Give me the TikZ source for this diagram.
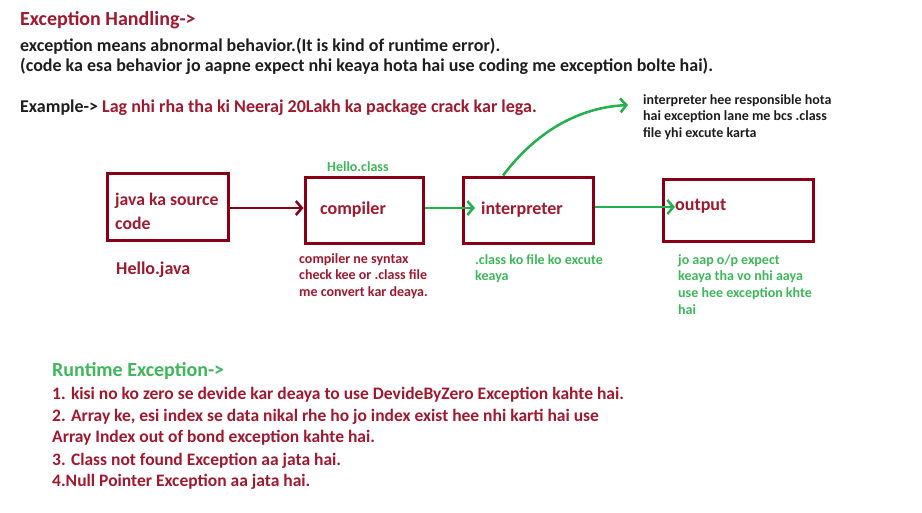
\documentclass[tikz,border=0pt]{standalone}
\usepackage{fontspec}
\setmainfont{Carlito}
\usetikzlibrary{arrows.meta}
\definecolor{dred}{HTML}{880015}
\definecolor{tred}{HTML}{A0192F}
\definecolor{lgreen}{HTML}{22B14C}
\definecolor{tgreen}{HTML}{3DB85A}
\definecolor{tblack}{HTML}{1E1E1E}
\tikzset{
  box/.style={draw=dred, line width=3pt, minimum width=#1, inner sep=0pt},
  txt/.style={anchor=west, inner sep=0pt, font=\bfseries\fontsize{18}{20}\selectfont},
  item/.style={anchor=west, inner sep=0pt, text=tred, font=\bfseries\fontsize{17.5}{20}\selectfont},
  big/.style={anchor=west, inner sep=0pt, font=\bfseries\fontsize{20}{22}\selectfont},
  small/.style={anchor=north west, inner sep=0pt, align=left, font=\bfseries\fontsize{14}{16.8}\selectfont},
  hand/.style={-{Straight Barb[length=6pt,width=14pt,line width=2.5pt]}, line width=2.5pt},
}
\begin{document}
\begin{tikzpicture}[x=1pt,y=-1pt]
\useasboundingbox[fill=white] (0,0) rectangle (922,512);
% header
\node[big, text=tred] (title) at (20,20) {Exception Handling->};
\node[txt, text=tblack] (l1) at (20,46) {exception means abnormal behavior.(It is kind of runtime error).};
\node[txt, text=tblack] (l2) at (20,66) {(code ka esa behavior jo aapne expect nhi keaya hota hai use coding me exception bolte hai).};
\node[txt, text=tblack] (ex) at (20,108) {Example-> \textcolor{tred}{Lag nhi rha tha ki Neeraj 20Lakh ka package crack kar lega.}};
% boxes
\node[box=121pt, minimum height=67pt] (src) at (167.5,206.5) {};
\node[box=118pt, minimum height=66pt] (comp) at (364,210) {};
\node[box=130pt, minimum height=66pt] (interp) at (528,210) {};
\node[box=150pt, minimum height=62pt] (out) at (738,210) {};
% box texts
\node[txt, text=tred, font=\bfseries\fontsize{17.7}{20}\selectfont] (srct1) at (115,201) {java ka source};
\node[txt, text=tred, font=\bfseries\fontsize{17.7}{20}\selectfont] (srct2) at (115,223) {code};
\node[txt, text=tred] (compt) at (320,210) {compiler};
\node[txt, text=tred] (interpt) at (481,210) {interpreter};
\node[txt, text=tred] (outt) at (675,206) {output};
% labels
\node[txt, text=tred] (hj) at (116,270) {Hello.java};
\node[txt, text=tgreen, font=\bfseries\fontsize{14}{16}\selectfont] (hc) at (327,167) {Hello.class};
\node[small, text=tred] (cnote) at (299,253) {compiler ne syntax\\check kee or .class file\\me convert kar deaya.};
\node[small, text=tgreen] (inote) at (475,254) {.class ko file ko excute\\keaya};
\node[small, text=tgreen] (onote) at (678,254) {jo aap o/p expect\\keaya tha vo nhi aaya\\use hee exception khte\\hai};
\node[small, text=tblack] (rnote) at (643,94) {interpreter hee responsible hota\\hai exception lane me bcs .class\\file yhi excute karta};
% runtime
\node[big, text=tgreen] (rt) at (52,371) {Runtime Exception->};
\node[item] (i1) at (52,395) {1. kisi no ko zero se devide kar deaya to use DevideByZero Exception kahte hai.};
\node[item] (i2) at (52,417) {2. Array ke, esi index se data nikal rhe ho jo index exist hee nhi karti hai use};
\node[item] (i3) at (52,438) {Array Index out of bond exception kahte hai.};
\node[item] (i4) at (52,461) {3. Class not found Exception aa jata hai.};
\node[item] (i5) at (52,482) {4.Null Pointer Exception aa jata hai.};
% connectors
\coordinate (iin) at (475,208);
\coordinate (oin) at (675,207);
\coordinate (rtip) at (628,105);
\draw[hand, dred] (src.east |- 0,208) -- (comp.west |- 0,208);
\draw[hand, lgreen] (comp.east |- 0,208) -- (iin);
\draw[hand, lgreen] (interp.east |- 0,207) -- (oin);
\draw[hand, lgreen] (interp.north -| 503,0) .. controls (530,140) and (570,108) .. (rtip);
\end{tikzpicture}
\end{document}
